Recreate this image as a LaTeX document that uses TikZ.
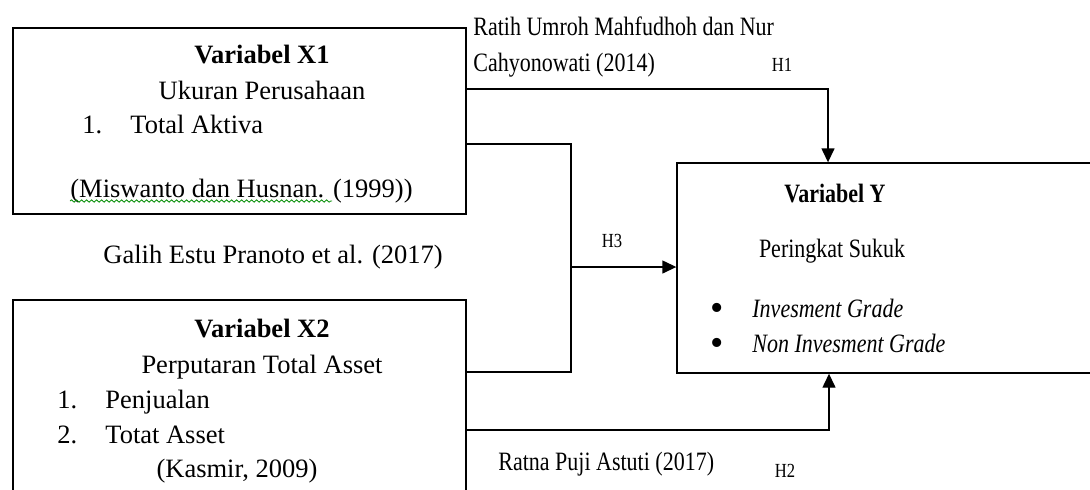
\documentclass[tikz,border=0pt]{standalone}
\usepackage{fontspec}
\setmainfont{Liberation Serif}
\newfontfamily\narrowfont[FakeStretch=0.83]{Liberation Serif}
\usepackage{tikz}
\usetikzlibrary{arrows.meta}
\usetikzlibrary{fit}
\usetikzlibrary{decorations.pathmorphing}

\begin{document}
\begin{tikzpicture}[x=0.5pt,y=-0.5pt,
    font=\fontsize{13.25}{16}\selectfont,
    box/.style={draw,line width=0.7pt,rectangle,inner sep=0pt},
    txt/.style={inner sep=0pt,anchor=base},
    txtl/.style={inner sep=0pt,anchor=base west},
    narrow/.style={font=\fontsize{13.25}{16}\narrowfont},
    hyp/.style={inner sep=0pt,anchor=base,font=\fontsize{10}{12}\narrowfont},
    bul/.style={inner sep=0pt,font=\fontsize{19}{20}\selectfont},
    link/.style={draw,line width=0.7pt},
    arr/.style={link,-{Triangle[length=7pt,width=6.5pt]}}]

  \useasboundingbox (0,0) rectangle (1090,489);
  \clip (0,0) rectangle (1090,489);

  \node [box,fit={(13,28) (466,214)}] (X1) {};
  \node [box,fit={(13,300) (466,520)}] (X2) {};
  \node [box,fit={(677,163) (1120,373)}] (Y) {};

  % variabel X1
  \node [txt] (X1_title) at (262,63) {\bfseries Variabel X1};
  \node [txt] (X1_name) at (262,99) {Ukuran Perusahaan};
  \node [txtl] (X1_num_1) at (82,133) {1.};
  \node [txtl] (X1_item_1) at (130,133) {Total Aktiva};
  \node [txtl] (X1_src) at (70,197) {(Miswanto dan Husnan. (1999))};
  \draw [green!55!black,line width=0.4pt,decorate,decoration={snake,amplitude=0.6pt,segment length=2.5pt}]
    ([yshift=-2pt]X1_src.base west) -- ([yshift=-2pt,xshift=131pt]X1_src.base west);

  \node [txtl] (galih) at (103,263) {Galih Estu Pranoto et al. (2017)};

  % variabel X2
  \node [txt] (X2_title) at (262,337) {\bfseries Variabel X2};
  \node [txt] (X2_name) at (262,373) {Perputaran Total Asset};
  \node [txtl] (X2_num_1) at (57,408) {1.};
  \node [txtl] (X2_item_1) at (105,408) {Penjualan};
  \node [txtl] (X2_num_2) at (57,443) {2.};
  \node [txtl] (X2_item_2) at (105,443) {Totat Asset};
  \node [txt] (X2_src) at (237,477) {(Kasmir, 2009)};

  % variabel Y
  \node [txt,narrow] (Y_title) at (835,202) {\bfseries Variabel Y};
  \node [txt,narrow] (Y_name) at (832,257) {Peringkat Sukuk};
  \node [bul] (Y_bul_1) at (717,312) {•};
  \node [bul] (Y_bul_2) at (717,347) {•};
  \node [txtl,narrow] (Y_item_1) at (752,317) {\itshape Invesment Grade};
  \node [txtl,narrow] (Y_item_2) at (752,352) {\itshape Non Invesment Grade};

  \node [txtl,narrow] (ratih_1) at (473,35) {Ratih Umroh Mahfudhoh dan Nur};
  \node [txtl,narrow] (ratih_2) at (473,71) {Cahyonowati (2014)};
  \node [txtl,narrow] (ratna) at (498,470) {Ratna Puji Astuti (2017)};
  \node [hyp] (H1) at (782,71) {H1};
  \node [hyp] (H3) at (612,247) {H3};
  \node [hyp] (H2) at (785,477) {H2};

  \coordinate (h1_turn) at (828,89);
  \coordinate (j_top) at (571,144);
  \coordinate (j_bot) at (571,372);
  \coordinate (h3_start) at (571,267);
  \coordinate (h2_turn) at (829,430);

  \path [arr] (X1.east |- h1_turn) -| (h1_turn |- Y.north);
  \path [link] (X1.east |- j_top) -| (j_bot) -- (X2.east |- j_bot);
  \path [arr] (h3_start) -- (Y.west |- h3_start);
  \path [arr] (X2.east |- h2_turn) -| (h2_turn |- Y.south);

\end{tikzpicture}
\end{document}
